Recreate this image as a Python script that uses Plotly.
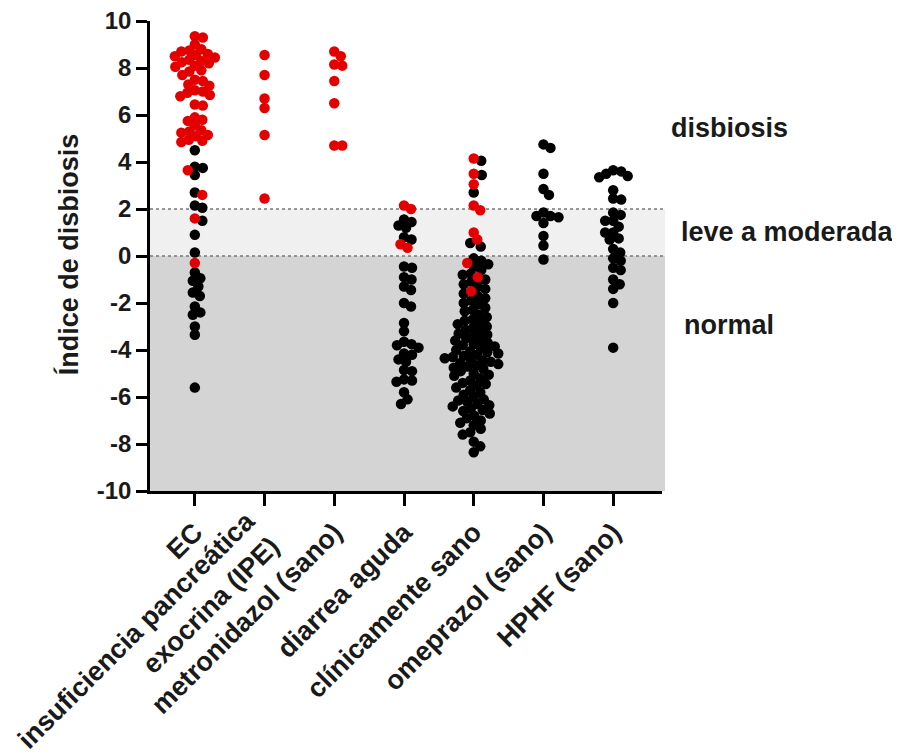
import plotly.graph_objects as go

categories = ["EC", "insuficiencia pancreática<br>exocrina (IPE)", "metronidazol (sano)",
              "diarrea aguda", "clínicamente sano", "omeprazol (sano)", "HPHF (sano)"]

ec_red = [9.35, 9.3, 9.0, 8.8, 8.75, 8.7, 8.6, 8.55, 8.5, 8.45, 8.35, 8.3, 8.25, 8.2, 8.1, 8.05,
          7.9, 7.85, 7.7, 7.5, 7.45, 7.3, 7.25, 7.05, 7.0, 6.95, 6.85, 6.8, 6.45, 6.4, 5.9, 5.8,
          5.75, 5.55, 5.35, 5.3, 5.25, 5.15, 5.1, 4.95, 4.9, 4.85, 3.65, 2.6, 1.6, -0.3]
ec_black = [4.5, 3.8, 3.75, 3.45, 2.7, 2.15, 2.05, 1.5, 0.9, 0.15, -0.7, -0.95, -1.05, -1.3,
            -1.55, -1.7, -2.15, -2.4, -2.5, -3.0, -3.35, -5.6]
ipe_red = [8.55, 7.7, 6.7, 6.3, 5.15, 2.45]
ipe_black = []
metro_red = [8.7, 8.5, 8.15, 8.1, 7.45, 6.5, 4.7, 4.7]
metro_black = []
diarrea_red = [2.15, 2.0, 0.5, 0.35]
diarrea_black = [1.55, 1.45, 1.3, 1.2, 0.8, 0.7, -0.45, -0.5, -0.9, -1.0, -1.3, -1.45, -2.0,
                 -2.15, -2.85, -3.2, -3.65, -3.75, -3.8, -3.9, -4.15, -4.2, -4.4, -4.5, -4.85,
                 -4.9, -5.25, -5.3, -5.35, -5.8, -6.1, -6.3]
sano_red = [4.15, 3.5, 3.05, 2.15, 1.95, 1.0, 0.7, -0.3, -0.9, -1.5]
sano_black = [4.05, 3.45, 2.7, 0.55, 0.4, -0.1, -0.2, -0.35, -0.45, -0.6, -0.75, -0.8, -1.0,
              -1.1, -1.2, -1.3, -1.4, -1.6, -1.7, -1.8, -1.9, -2.0, -2.05, -2.2, -2.3, -2.35,
              -2.5, -2.6, -2.7, -2.75, -2.85, -2.9, -3.0, -3.05, -3.15, -3.2, -3.3, -3.35, -3.4,
              -3.5, -3.55, -3.6, -3.7, -3.75, -3.8, -3.85, -3.9, -4.0, -4.05, -4.1, -4.15, -4.2,
              -4.25, -4.3, -4.35, -4.4, -4.45, -4.5, -4.55, -4.6, -4.65, -4.7, -4.75, -4.8, -4.9,
              -5.0, -5.05, -5.1, -5.2, -5.3, -5.4, -5.45, -5.5, -5.6, -5.7, -5.8, -5.9, -6.0,
              -6.1, -6.15, -6.2, -6.3, -6.35, -6.4, -6.5, -6.55, -6.6, -6.7, -6.8, -6.9, -7.0,
              -7.1, -7.2, -7.35, -7.5, -7.6, -7.9, -8.1, -8.35]
omep_red = []
omep_black = [4.75, 4.6, 3.5, 2.85, 2.6, 1.85, 1.7, 1.7, 1.65, 1.4, 0.85, 0.45, -0.15]
hphf_red = []
hphf_black = [3.65, 3.6, 3.5, 3.4, 3.35, 2.8, 2.45, 2.4, 1.85, 1.75, 1.5, 1.5, 1.25, 1.0, 1.0,
              0.75, 0.7, 0.3, 0.15, -0.1, -0.2, -0.5, -0.6, -1.0, -1.2, -1.4, -2.0, -3.9]

groups_red = [ec_red, ipe_red, metro_red, diarrea_red, sano_red, omep_red, hphf_red]
groups_black = [ec_black, ipe_black, metro_black, diarrea_black, sano_black, omep_black, hphf_black]

y_ticks = list(range(-10, 11, 2))
y_ticktext = [str(v) for v in y_ticks]

# plot geometry (pixels); page has an 8px body offset, keep figure inside the window
W, H = 892, 747
L, T = 142, 13
PW, PH = 512, 470
R = W - L - PW
B = H - T - PH
X_RANGE = [-0.643, 6.7]
Y_RANGE = [-10, 10]
px_per_x = PW / (X_RANGE[1] - X_RANGE[0])
px_per_y = PH / (Y_RANGE[1] - Y_RANGE[0])
DOT = 7.8


def swarm(values):
    """Beeswarm offsets (in x data units) computed from y values."""
    order = sorted(range(len(values)), key=lambda i: -values[i])
    placed = []
    offs = [0.0] * len(values)
    cands = [0]
    for k in range(1, 120):
        cands += [k * 0.5, -k * 0.5]
    for i in order:
        y = values[i] * px_per_y
        for c in cands:
            ok = True
            for (px, py) in placed:
                if abs(py - y) < DOT and (px - c) ** 2 + (py - y) ** 2 < DOT ** 2:
                    ok = False
                    break
            if ok:
                placed.append((c, y))
                offs[i] = c / px_per_x
                break
    return offs


fig = go.Figure()
bx, by, rx, ry = [], [], [], []
for gi, (reds, blacks) in enumerate(zip(groups_red, groups_black)):
    vals = blacks + reds
    offs = swarm(vals)
    for j, v in enumerate(vals):
        if j < len(blacks):
            bx.append(gi + offs[j]); by.append(v)
        else:
            rx.append(gi + offs[j]); ry.append(v)

fig.add_trace(go.Scatter(x=bx, y=by, mode="markers",
                         marker=dict(color="#000000", size=10.5, line=dict(width=0)),
                         showlegend=False))
fig.add_trace(go.Scatter(x=rx, y=ry, mode="markers",
                         marker=dict(color="#e50000", size=10.5, line=dict(width=0)),
                         showlegend=False))

# background bands
fig.add_shape(type="rect", xref="paper", yref="y", x0=0, x1=1.006, y0=-10, y1=0,
              fillcolor="#d4d4d4", line=dict(width=0), layer="below")
fig.add_shape(type="rect", xref="paper", yref="y", x0=0, x1=1.006, y0=0, y1=2,
              fillcolor="#f0f0f0", line=dict(width=0), layer="below")
for yv in [0, 2]:
    fig.add_shape(type="line", xref="paper", yref="y", x0=0, x1=1.006, y0=yv, y1=yv,
                  line=dict(color="#777777", width=1.5, dash="dot"), layer="below")

FONT = "Liberation Sans, Arial, sans-serif"
TXT = "#1a1a1a"
tick_text_axis = [c if i != 1 else "" for i, c in enumerate(categories)]

fig.update_layout(
    width=W, height=H,
    margin=dict(l=L, r=R, t=T, b=B, autoexpand=False),
    plot_bgcolor="white", paper_bgcolor="white",
    font=dict(family=FONT, color=TXT),
    showlegend=False,
)
fig.update_xaxes(range=X_RANGE, tickmode="array", tickvals=list(range(len(categories))),
                 ticktext=tick_text_axis, tickangle=-45, ticks="outside", ticklen=12,
                 tickwidth=2.5, tickcolor="black", showline=True, linecolor="black",
                 linewidth=2.5, showgrid=False, zeroline=False, automargin=False,
                 ticklabeloverflow="allow",
                 tickfont=dict(family=FONT, size=27, weight=700, color=TXT))
fig.update_yaxes(range=Y_RANGE, tickmode="array", tickvals=y_ticks, ticktext=y_ticktext,
                 ticks="outside", ticklen=11, tickwidth=2.5, tickcolor="black",
                 showline=True, linecolor="black", linewidth=2.5, showgrid=False,
                 zeroline=False, automargin=False, ticklabeloverflow="allow",
                 tickfont=dict(family=FONT, size=24, weight=700, color=TXT))

# two-line category label, centred on its tick like the original
fig.add_annotation(text=categories[1], xref="x", yref="paper", x=1, y=0,
                   textangle=-45, align="right", showarrow=False,
                   xanchor="right", yanchor="top", xshift=24, yshift=-12,
                   font=dict(family=FONT, size=27, weight=700, color=TXT))

fig.add_annotation(text="Índice de disbiosis", xref="paper", yref="paper",
                   x=-0.16, y=0.504, textangle=-90, showarrow=False,
                   xanchor="center", yanchor="middle",
                   font=dict(family=FONT, size=27, weight=700, color=TXT))
for txt, xp, yp in [("disbiosis", 1.0137, 0.772), ("leve a moderada", 1.033, 0.551),
                    ("normal", 1.039, 0.353)]:
    fig.add_annotation(text=txt, xref="paper", yref="paper", x=xp, y=yp,
                       showarrow=False, xanchor="left", yanchor="middle",
                       font=dict(family=FONT, size=27, weight=700, color=TXT))

fig.write_html("out.html")
